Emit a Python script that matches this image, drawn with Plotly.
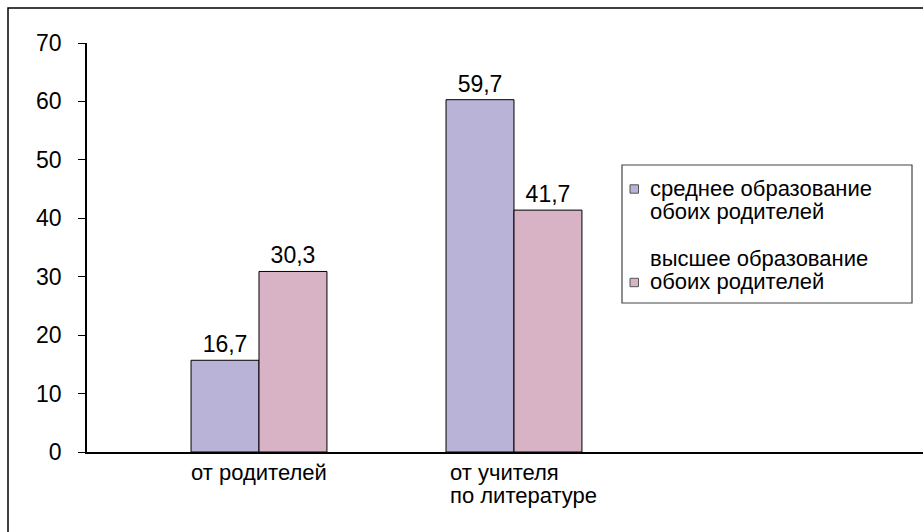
import plotly.graph_objects as go

categories = [0, 1]
category_labels = ["от родителей", "от учителя<br>по литературе"]
series_names = ["среднее образование<br>обоих родителей", "высшее образование<br>обоих родителей"]
# bar heights as drawn in the picture, and the value labels printed above them
secondary_bars = [15.7, 60.3]
higher_bars = [30.9, 41.4]
secondary_labels = ["16,7", "59,7"]
higher_labels = ["30,3", "41,7"]
y_ticks = [0, 10, 20, 30, 40, 50, 60, 70]

FONT = "Liberation Sans, Arial, sans-serif"
BLUE = "#B8B3D7"
PINK = "#D7B3C5"

W, H = 923, 532
L, R, T, B = 87, 0, 43, 80
pw, ph = W - L - R, H - T - B

def px(x):
    return (x - L) / pw

def py(y):
    return (H - B - y) / ph

fig = go.Figure()
for name, vals, labels, col in [(series_names[0], secondary_bars, secondary_labels, BLUE),
                                (series_names[1], higher_bars, higher_labels, PINK)]:
    fig.add_trace(go.Bar(
        x=categories, y=vals, name=name,
        marker=dict(color=col, line=dict(color="black", width=1)),
        text=labels, texttemplate="%{text}", textposition="outside",
        textfont=dict(size=23, color="black", family=FONT),
        cliponaxis=False, showlegend=False,
    ))

fig.update_layout(
    width=W, height=H,
    margin=dict(l=L, r=R, t=T, b=B),
    paper_bgcolor="white", plot_bgcolor="white",
    barmode="group", bargap=0.467, bargroupgap=0,
    separators=", ",
    font=dict(family=FONT, size=22, color="black"),
    xaxis=dict(range=[-0.6745, 2.604], showgrid=False, zeroline=False,
               showline=True, linecolor="black", linewidth=1.5,
               showticklabels=False, ticks=""),
    yaxis=dict(range=[0, 70], tickvals=y_ticks, showgrid=False, zeroline=False,
               showline=True, linecolor="black", linewidth=1.5,
               ticks="outside", ticklen=7, tickcolor="black",
               ticklabelstandoff=12,
               tickfont=dict(size=23, family=FONT, color="black")),
)

LINE = 23.5

def add_lines(text, x, xref, first_center_px, xanchor):
    for i, line in enumerate(text.split("<br>")):
        fig.add_annotation(x=x, y=py(first_center_px + i * LINE - 1), xref=xref, yref="paper",
                           text=line, showarrow=False, xanchor=xanchor, yanchor="middle",
                           align="left", font=dict(size=22, family=FONT, color="black"))

# category labels
add_lines(category_labels[0], categories[0], "x", 473, "center")
add_lines(category_labels[1], categories[1] - 0.258, "x", 473, "left")

# outer border
fig.add_shape(type="rect", xref="paper", yref="paper",
              x0=px(8), x1=px(960), y0=py(560), y1=py(8),
              line=dict(color="black", width=1.5), fillcolor="rgba(0,0,0,0)")

# legend box
fig.add_shape(type="rect", xref="paper", yref="paper",
              x0=px(622), x1=px(912), y0=py(303), y1=py(165),
              line=dict(color="#444", width=1.2), fillcolor="white")
# legend symbols
for ycen, col in [(189, BLUE), (282.5, PINK)]:
    fig.add_shape(type="rect", xref="paper", yref="paper",
                  x0=px(630), x1=px(638.5), y0=py(ycen + 4.2), y1=py(ycen - 4.2),
                  line=dict(color="#555", width=1), fillcolor=col)
# legend text
add_lines(series_names[0], px(648), "paper", 189, "left")
add_lines(series_names[1], px(648), "paper", 259, "left")

fig.write_html("out.html")
